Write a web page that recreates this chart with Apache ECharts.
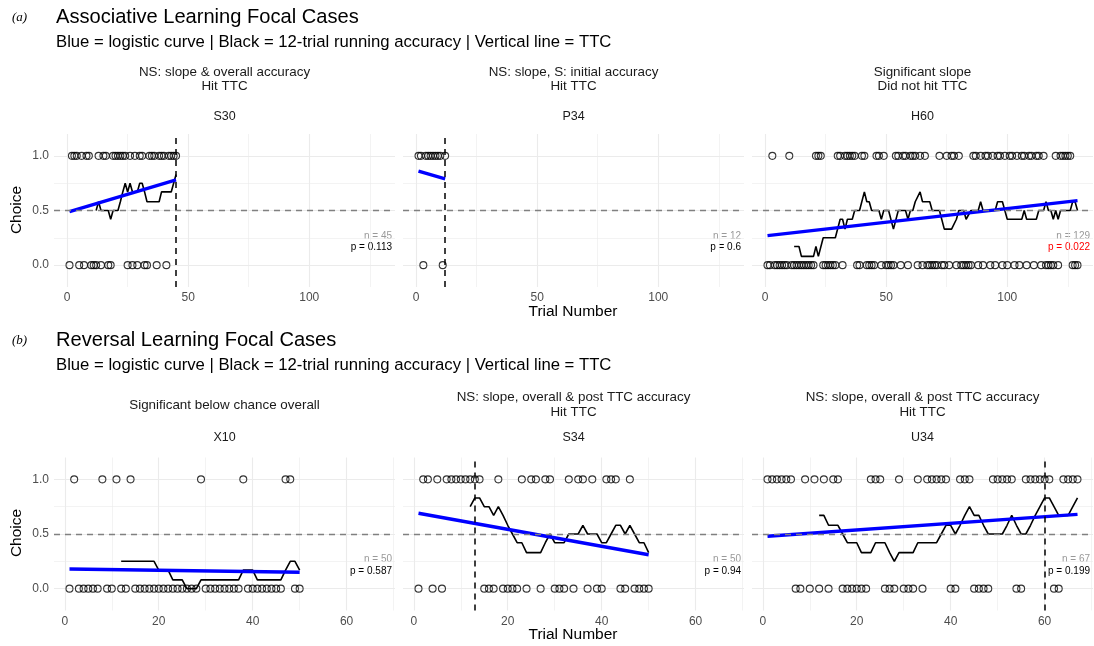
<!DOCTYPE html>
<html><head><meta charset="utf-8">
<script src="https://cdn.jsdelivr.net/npm/echarts@6/dist/echarts.min.js"></script>
<style>html,body{margin:0;padding:0;background:#fff}#c{width:1094px;height:646px}</style>
</head><body><div id="c"></div>
<script>
// ---------------- DATA ----------------
// (a) Associative learning
const s30Ones  = [2,3,4,6,8,9,13,15,16,19,20,21,22,23,24,26,28,30,31,34,35,36,38,39,40,42,43,44,45];
const s30Zeros = [1,5,7,10,11,12,14,17,18,25,27,29,32,33,37,41];
const s30Run   = [[12,0.5],[13,0.58],[14,0.5],[15,0.5],[16,0.5],[17,0.5],[18,0.42],[19,0.5],[20,0.5],[21,0.5],[22,0.58],[23,0.67],[24,0.75],[25,0.67],[26,0.75],[27,0.67],[28,0.67],[29,0.67],[30,0.75],[31,0.75],[32,0.67],[33,0.58],[34,0.58],[35,0.58],[36,0.58],[37,0.58],[38,0.58],[39,0.67],[40,0.67],[41,0.67],[42,0.67],[43,0.67],[44,0.75],[45,0.83]];
const s30Logit = [[1,0.49],[45,0.78]];
const s30TTC = 45;

const p34Ones  = [1,2,4,5,6,7,8,9,10,12];
const p34Zeros = [3,11];
const p34Run   = [];
const p34Logit = [[1,0.86],[12,0.79]];
const p34TTC = 12;

const h60Ones  = [3,10,21,22,23,30,31,33,34,35,36,37,40,41,46,47,49,54,55,57,58,60,61,62,64,66,72,75,77,78,80,86,87,89,91,92,94,96,97,99,101,102,104,106,107,109,110,112,113,115,120,122,123,124,125,126];
const h60Zeros = [1,2,4,5,6,7,8,9,11,12,13,14,15,16,17,18,19,20,24,25,26,27,28,29,32,38,39,42,43,44,45,48,50,51,52,53,56,59,63,65,67,68,69,70,71,73,74,76,79,81,82,83,84,85,88,90,93,95,98,100,103,105,108,111,114,116,117,118,119,121,127,128,129];
const h60Run   = [[12,0.17],[14,0.17],[15,0.08],[20,0.08],[21,0.17],[22,0.08],[24,0.25],[29,0.25],[31,0.42],[32,0.42],[33,0.33],[34,0.42],[36,0.42],[37,0.5],[39,0.5],[41,0.67],[42,0.58],[43,0.58],[44,0.5],[47,0.5],[48,0.42],[49,0.5],[51,0.5],[53,0.33],[55,0.5],[58,0.5],[59,0.42],[60,0.5],[61,0.5],[62,0.58],[64,0.67],[65,0.58],[68,0.58],[69,0.5],[72,0.5],[74,0.33],[77,0.33],[79,0.42],[80,0.5],[82,0.5],[83,0.42],[85,0.5],[88,0.5],[89,0.58],[90,0.5],[95,0.5],[96,0.58],[98,0.58],[100,0.42],[106,0.42],[107,0.5],[108,0.42],[112,0.42],[113,0.5],[115,0.5],[116,0.58],[117,0.5],[118,0.5],[119,0.42],[120,0.5],[121,0.42],[122,0.5],[126,0.5],[127,0.58],[128,0.58],[129,0.5]];
const h60Logit = [[1,0.27],[129,0.59]];
const h60TTC = null;

// (b) Reversal learning
const x10Ones  = [2,8,11,14,29,38,47,48];
const x10Zeros = [1,3,4,5,6,7,9,10,12,13,15,16,17,18,19,20,21,22,23,24,25,26,27,28,30,31,32,33,34,35,36,37,39,40,41,42,43,44,45,46,49,50];
const x10Run   = [[12,0.25],[19,0.25],[20,0.17],[22,0.17],[23,0.08],[25,0.08],[26,0],[28,0],[29,0.08],[37,0.08],[38,0.17],[40,0.17],[41,0.08],[46,0.08],[47,0.17],[48,0.25],[49,0.25],[50,0.17]];
const x10Logit = [[1,0.18],[50,0.15]];
const x10TTC = null;

const s34Ones  = [2,3,5,7,8,9,10,11,12,13,14,18,23,25,26,28,29,33,35,36,38,41,42,43,46];
const s34Zeros = [1,4,6,15,16,17,19,20,21,22,24,27,30,31,32,34,37,39,40,44,45,47,48,49,50];
const s34Run   = [[12,0.75],[13,0.83],[14,0.83],[15,0.75],[16,0.75],[17,0.67],[18,0.75],[19,0.67],[20,0.58],[21,0.5],[22,0.42],[23,0.42],[24,0.33],[25,0.33],[26,0.33],[27,0.33],[28,0.42],[29,0.5],[30,0.42],[31,0.42],[32,0.42],[33,0.5],[34,0.5],[35,0.5],[36,0.58],[37,0.5],[38,0.5],[39,0.5],[40,0.42],[41,0.42],[42,0.5],[43,0.58],[44,0.58],[45,0.5],[46,0.58],[47,0.5],[48,0.42],[49,0.42],[50,0.33]];
const s34Logit = [[1,0.69],[50,0.31]];
const s34TTC = 13;

const u34Ones  = [1,2,3,4,5,6,9,11,13,15,16,23,24,25,29,33,35,36,37,38,39,42,43,44,49,50,51,52,53,56,57,58,59,60,61,64,65,66,67];
const u34Zeros = [7,8,10,12,14,17,18,19,20,21,22,26,27,28,30,31,32,34,40,41,45,46,47,48,54,55,62,63];
const u34Run   = [[12,0.67],[13,0.67],[14,0.58],[15,0.58],[16,0.58],[17,0.5],[18,0.42],[19,0.42],[20,0.42],[21,0.33],[22,0.33],[23,0.33],[24,0.42],[25,0.42],[26,0.42],[27,0.33],[28,0.25],[29,0.33],[30,0.33],[31,0.33],[32,0.33],[33,0.42],[34,0.42],[35,0.42],[36,0.42],[37,0.42],[38,0.5],[39,0.58],[40,0.58],[41,0.5],[42,0.58],[43,0.67],[44,0.75],[45,0.67],[46,0.67],[47,0.58],[48,0.5],[49,0.5],[50,0.5],[51,0.5],[52,0.58],[53,0.67],[54,0.58],[55,0.5],[56,0.5],[57,0.58],[58,0.67],[59,0.75],[60,0.83],[61,0.83],[62,0.75],[63,0.67],[64,0.67],[65,0.67],[66,0.75],[67,0.83]];
const u34Logit = [[1,0.48],[67,0.68]];
const u34TTC = 60;

// tick labels / grid breaks
const topXLabels = [0,50,100];
const topXMinor  = [25,75,125];
const botXLabels = [0,20,40,60];
const botXMinor  = [10,30,50,70];
const yLabels = [0,0.5,1];
const yMinor  = [0.25,0.75];

// texts
const panelIds = ['S30','P34','H60','X10','S34','U34'];
const stripTexts = [
  ['NS: slope & overall accuracy','Hit TTC'],
  ['NS: slope, S: initial accuracy','Hit TTC'],
  ['Significant slope','Did not hit TTC'],
  ['Significant below chance overall'],
  ['NS: slope, overall & post TTC accuracy','Hit TTC'],
  ['NS: slope, overall & post TTC accuracy','Hit TTC']
];
const nTexts = ['n = 45','n = 12','n = 129','n = 50','n = 50','n = 67'];
const pTexts = ['p = 0.113','p = 0.6','p = 0.022','p = 0.587','p = 0.94','p = 0.199'];
const pSignificant = [false,false,true,false,false,false];

// ---------------- BUILD ----------------
const panels = [
  {ones:s30Ones,zeros:s30Zeros,run:s30Run,logit:s30Logit,ttc:s30TTC},
  {ones:p34Ones,zeros:p34Zeros,run:p34Run,logit:p34Logit,ttc:p34TTC},
  {ones:h60Ones,zeros:h60Zeros,run:h60Run,logit:h60Logit,ttc:h60TTC},
  {ones:x10Ones,zeros:x10Zeros,run:x10Run,logit:x10Logit,ttc:x10TTC},
  {ones:s34Ones,zeros:s34Zeros,run:s34Run,logit:s34Logit,ttc:s34TTC},
  {ones:u34Ones,zeros:u34Zeros,run:u34Run,logit:u34Logit,ttc:u34TTC}
];

const FONT = '"Liberation Sans", Arial, Helvetica, sans-serif';
const colLeft = [54, 403, 752];
const colWidth = 341;
const rowTop = [134, 457.5];
const rowHeight = 153;
const xRange = [[-5.4,135.4],[-2.3,70.3]];

const grids=[], xAxes=[], yAxes=[], series=[], graphics=[];

panels.forEach((pn,i)=>{
  const row = Math.floor(i/3), col = i%3;
  const left = colLeft[col], top = rowTop[row];
  grids.push({left:left, top:top, width:colWidth, height:rowHeight});
  const xl = row===0 ? topXLabels : botXLabels;
  const xm = row===0 ? topXMinor : botXMinor;
  xAxes.push({type:'value', gridIndex:i, min:xRange[row][0], max:xRange[row][1],
    axisLine:{show:false}, axisTick:{show:false}, splitLine:{show:false},
    axisLabel:{customValues:xl, color:'#4d4d4d', fontSize:12, fontFamily:FONT, margin:5,
      formatter:v=>String(v)}});
  yAxes.push({type:'value', gridIndex:i, min:-0.2, max:1.2,
    axisLine:{show:false}, axisTick:{show:false}, splitLine:{show:false},
    axisLabel:{show:col===0, customValues:yLabels, color:'#4d4d4d', fontSize:12, fontFamily:FONT, margin:5,
      formatter:v=>Number(v).toFixed(1)}});
  // grid lines
  const gl = [];
  xl.forEach(v=>gl.push({xAxis:v, lineStyle:{color:'#ebebeb', width:1.1, type:'solid'}}));
  xm.forEach(v=>gl.push({xAxis:v, lineStyle:{color:'#ebebeb', width:0.6, type:'solid'}}));
  yLabels.forEach(v=>gl.push({yAxis:v, lineStyle:{color:'#ebebeb', width:1.1, type:'solid'}}));
  yMinor.forEach(v=>gl.push({yAxis:v, lineStyle:{color:'#ebebeb', width:0.6, type:'solid'}}));
  series.push({type:'scatter', xAxisIndex:i, yAxisIndex:i, data:[], silent:true, z:1,
    markLine:{silent:true, symbol:['none','none'], label:{show:false}, z:1, animation:false, data:gl}});
  // choice points
  const pts = pn.ones.map(t=>[t,1]).concat(pn.zeros.map(t=>[t,0]));
  series.push({type:'scatter', xAxisIndex:i, yAxisIndex:i, data:pts, symbol:'circle', symbolSize:7, z:2,
    itemStyle:{color:'rgba(0,0,0,0)', borderColor:'#000', borderWidth:1.05}});
  // running accuracy
  series.push({type:'line', xAxisIndex:i, yAxisIndex:i, data:pn.run, showSymbol:false, z:3,
    lineStyle:{color:'#000', width:1.6}});
  // logistic
  series.push({type:'line', xAxisIndex:i, yAxisIndex:i, data:pn.logit, showSymbol:false, z:4,
    lineStyle:{color:'#0000ff', width:3.4}});
  // reference lines
  const rl = [{yAxis:0.5, lineStyle:{color:'#808080', width:1.3, type:[6,5]}}];
  if (pn.ttc !== null) rl.push({xAxis:pn.ttc, lineStyle:{color:'#000', width:1.5, type:[6,5]}});
  series.push({type:'scatter', xAxisIndex:i, yAxisIndex:i, data:[], silent:true, z:5,
    markLine:{silent:true, symbol:['none','none'], label:{show:false}, z:5, animation:false, data:rl}});

  // strip texts
  const cx = left + colWidth/2;
  const st = stripTexts[i];
  const lineY = row===0 ? [72,86.5] : [397,412];
  const singleY = row===0 ? 79 : 405;
  const sFont = '13.4px '+FONT;
  if (st.length===1) {
    graphics.push({type:'text', x:cx, y:singleY, style:{text:st[0], font:sFont, fill:'#1a1a1a', align:'center', verticalAlign:'middle'}});
  } else {
    st.forEach((s,k)=>graphics.push({type:'text', x:cx, y:lineY[k], style:{text:s, font:sFont, fill:'#1a1a1a', align:'center', verticalAlign:'middle'}}));
  }
  graphics.push({type:'text', x:cx, y:row===0?117:438, style:{text:panelIds[i], font:'12.5px '+FONT, fill:'#1a1a1a', align:'center', verticalAlign:'middle'}});
  // n / p annotations
  const rx = left + colWidth - 3;
  graphics.push({type:'text', x:rx, y:row===0?236:559, style:{text:nTexts[i], font:'10px '+FONT, fill:'#999999', align:'right', verticalAlign:'middle'}});
  graphics.push({type:'text', x:rx, y:row===0?247.5:571, style:{text:pTexts[i], font:'10px '+FONT, fill:pSignificant[i]?'#ff0000':'#000000', align:'right', verticalAlign:'middle'}});
});

// titles
const titles = [
  {tag:'(a)', title:'Associative Learning Focal Cases', y:17.5, sy:42},
  {tag:'(b)', title:'Reversal Learning Focal Cases', y:340.5, sy:365}
];
const subtitle = 'Blue = logistic curve | Black = 12-trial running accuracy | Vertical line = TTC';
titles.forEach(t=>{
  graphics.push({type:'text', x:12, y:t.y, style:{text:t.tag, font:'italic 13px "Liberation Serif", "DejaVu Serif", serif', fill:'#000', align:'left', verticalAlign:'middle'}});
  graphics.push({type:'text', x:56, y:t.y, style:{text:t.title, font:'20.1px '+FONT, fill:'#000', align:'left', verticalAlign:'middle'}});
  graphics.push({type:'text', x:56, y:t.sy, style:{text:subtitle, font:'16.7px '+FONT, fill:'#000', align:'left', verticalAlign:'middle'}});
});
// axis titles
[210, 533].forEach(y=>graphics.push({type:'text', x:17, y:y, rotation:Math.PI/2, style:{text:'Choice', font:'15.5px '+FONT, fill:'#000', align:'center', verticalAlign:'middle'}}));
[312, 635].forEach(y=>graphics.push({type:'text', x:573, y:y, style:{text:'Trial Number', font:'15.5px '+FONT, fill:'#000', align:'center', verticalAlign:'middle'}}));

const chart = echarts.init(document.getElementById('c'), null, {renderer:'canvas'});
chart.setOption({
  backgroundColor:'#ffffff',
  animation:false,
  grid:grids, xAxis:xAxes, yAxis:yAxes, series:series,
  graphic:{elements:graphics}
});
</script>
</body></html>
